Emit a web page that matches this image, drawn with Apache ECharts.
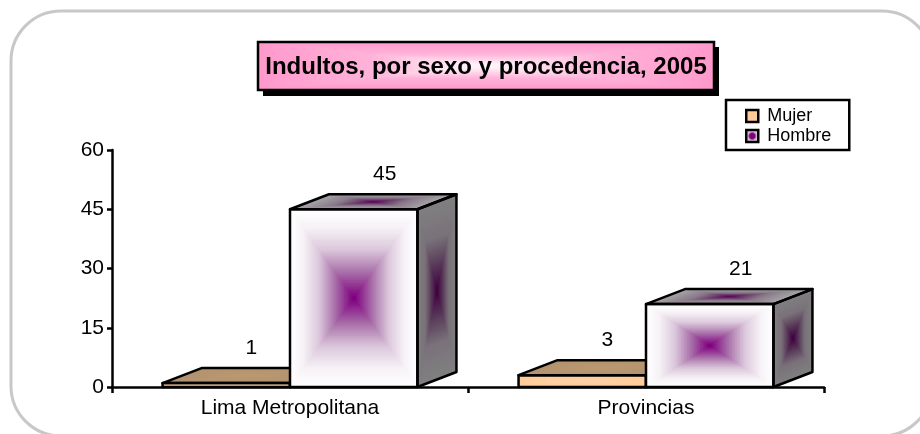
<!DOCTYPE html>
<html><head><meta charset="utf-8">
<style>html,body{margin:0;padding:0;background:#fff}#c{width:920px;height:434px}</style>
<script src="https://cdn.jsdelivr.net/npm/echarts@6/dist/echarts.min.js"></script>
</head><body><div id="c"></div>
<script>
const categories = ['Lima Metropolitana', 'Provincias'];
const mujer = [1, 3];
const hombre = [45, 21];
const titleText = 'Indultos, por sexo y procedencia, 2005';
const FONT = '"Liberation Sans", Arial, sans-serif';
const DX = 39, DY = 15, BAR_RATIO = 0.358, STEPS = 40;

const hombreFront = [[0,'#ffffff'],[0.2,'#f6f2f6'],[0.45,'#dcc8dc'],[0.7,'#ab75ab'],[1,'#800080']];
const hombreShade = [[0,'#808080'],[0.4,'#7a727a'],[0.7,'#5a3c5a'],[1,'#400040']];
const hombreTop = [[0,'#a8a8a8'],[0.5,'#8a7a8a'],[0.8,'#6a3a6a'],[1,'#600060']];
const mujerFront = [[0,'#ffcc99'],[1,'#ffd2a6']];
const mujerShade = [[0,'#b39370'],[1,'#bb9972']];
const titleGlow = [[0,'#ff99cc'],[0.5,'#ffb3d9'],[0.85,'#ffe6f2'],[1,'#fff5fa']];

function colorAt(s,t){
  for(let i=1;i<s.length;i++){
    if(t<=s[i][0]){
      const a=s[i-1],b=s[i];
      return echarts.color.lerp((t-a[0])/(b[0]-a[0]),[a[1],b[1]]);
    }
  }
  return s[s.length-1][1];
}
function boxFaces(q,s){
  const cx=q.reduce((a,p)=>a+p[0],0)/4, cy=q.reduce((a,p)=>a+p[1],0)/4;
  const out=[];
  for(let k=0;k<STEPS;k++){
    const f=1-k/STEPS;
    out.push({type:'polygon',shape:{points:q.map(p=>[cx+(p[0]-cx)*f,cy+(p[1]-cy)*f])},style:{fill:colorAt(s,k/(STEPS-1))}});
  }
  return out;
}
function outline(q){return {type:'polygon',z2:5,shape:{points:q},style:{fill:'none',stroke:'#000',lineWidth:2.5,lineJoin:'round'}};}

function bar3d(side,front,shade,top3,labelDx){
  return function(params,api){
    const i=api.value(0), v=api.value(1);
    const base=api.coord([i,0]), top=api.coord([i,v]);
    const w=api.size([1,0])[0]*BAR_RATIO;
    const x0=side<0?base[0]-w:base[0], x1=x0+w;
    const yb=base[1], yt=top[1];
    const f=[[x0,yt],[x1,yt],[x1,yb],[x0,yb]];
    const t=[[x0,yt],[x0+DX,yt-DY],[x1+DX,yt-DY],[x1,yt]];
    const r=[[x1,yt],[x1+DX,yt-DY],[x1+DX,yb-DY],[x1,yb]];
    const kids=[...boxFaces(r,shade),...boxFaces(t,top3),...boxFaces(f,front),outline(r),outline(t),outline(f)];
    kids.push({type:'text',z2:6,style:{text:String(v),x:x0+w/2+labelDx,y:yt-DY-20,align:'center',verticalAlign:'middle',font:'21px '+FONT,fill:'#000'}});
    return {type:'group',children:kids};
  };
}
const titleBox=[[258,42],[714,42],[714,90],[258,90]];
const chart=echarts.init(document.getElementById('c'),null,{renderer:'canvas'});
chart.setOption({
  animation:false,
  backgroundColor:'#fff',
  graphic:[
    {type:'rect',z:-10,shape:{x:11,y:11,width:921,height:425,r:50},style:{fill:'#fff',stroke:'#c8c8c8',lineWidth:3}},
    {type:'rect',z:-5,shape:{x:263,y:47,width:456,height:49},style:{fill:'#000'}},
    {type:'group',z:-4,children:boxFaces(titleBox,titleGlow).map(e=>Object.assign(e,{z:-4}))},
    {type:'polygon',z:-3,shape:{points:titleBox},style:{fill:'none',stroke:'#000',lineWidth:2.5}}
  ],
  title:{text:titleText,left:486,top:54,textAlign:'center',padding:0,
    textStyle:{fontFamily:FONT,fontWeight:'bold',fontSize:24,color:'#000',lineHeight:26}},
  legend:{orient:'vertical',left:726,top:100,padding:[7,18,5,19],itemGap:2,itemWidth:12,itemHeight:12,
    borderColor:'#000',borderWidth:2.5,backgroundColor:'#fff',
    textStyle:{fontFamily:FONT,fontSize:18,color:'#000',padding:[0,0,0,4]},
    data:[
      {name:'Mujer',icon:'rect',itemStyle:{color:'#ffcc99',borderColor:'#000',borderWidth:2.5}},
      {name:'Hombre',icon:'rect',itemStyle:{borderColor:'#000',borderWidth:2.5,
        color:{type:'radial',x:0.5,y:0.5,r:0.6,colorStops:[{offset:0,color:'#800080'},{offset:0.3,color:'#800080'},{offset:0.5,color:'#cdb9cd'},{offset:1,color:'#e8e0e8'}]}}}
    ]},
  grid:{left:112,right:96,top:150,bottom:47},
  xAxis:{type:'category',data:categories,
    axisLine:{lineStyle:{color:'#000',width:2.5}},
    axisTick:{show:true,length:6,lineStyle:{color:'#000',width:2.5},alignWithLabel:false},
    axisLabel:{fontFamily:FONT,fontSize:21,color:'#000',margin:11}},
  yAxis:{type:'value',min:0,max:60,interval:15,
    axisLine:{show:true,lineStyle:{color:'#000',width:2.5}},
    axisTick:{show:true,length:5,lineStyle:{color:'#000',width:2.5}},
    axisLabel:{fontFamily:FONT,fontSize:21,color:'#000',margin:8},
    splitLine:{show:false}},
  series:[
    {name:'Mujer',type:'custom',clip:false,z:2,renderItem:bar3d(-1,mujerFront,mujerShade,mujerShade,25),encode:{x:0,y:1},
     data:mujer.map((v,i)=>[i,v])},
    {name:'Hombre',type:'custom',clip:false,z:3,renderItem:bar3d(1,hombreFront,hombreShade,hombreTop,31),encode:{x:0,y:1},
     data:hombre.map((v,i)=>[i,v])}
  ]
});
</script></body></html>
